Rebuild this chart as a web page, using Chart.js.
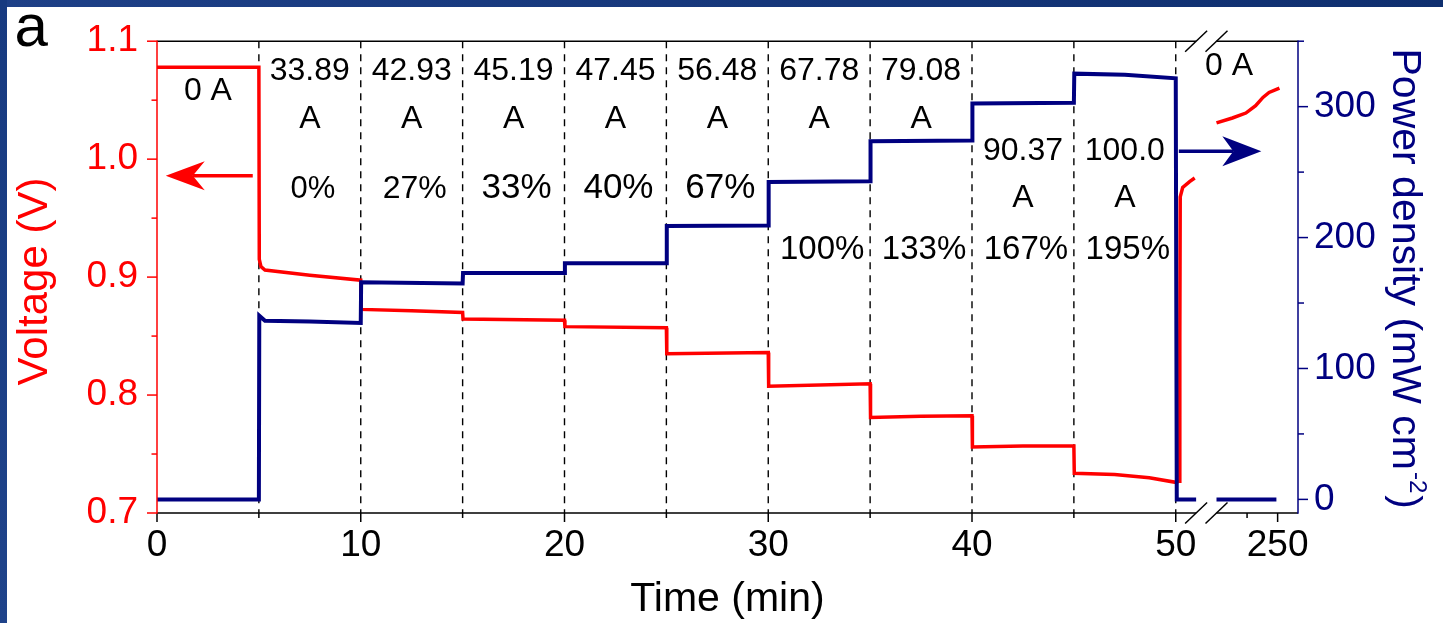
<!DOCTYPE html>
<html>
<head>
<meta charset="utf-8">
<script src="https://cdn.jsdelivr.net/npm/chart.js@4.4.1/dist/chart.umd.min.js"></script>
<style>
  html, body { margin: 0; padding: 0; background: #fff; overflow: hidden; }
  #wrap { position: relative; width: 1443px; height: 623px; }
  canvas { position: absolute; left: 0; top: 0; }
  #frameTop { position: absolute; left: 0; top: 0; width: 1443px; height: 7px;
              background: linear-gradient(to right, #1e4087, #0f2f6f); }
  #frameLeft { position: absolute; left: 0; top: 0; width: 7px; height: 623px;
               background: linear-gradient(to bottom, #173a80, #1f438a); }
</style>
</head>
<body>
<div id="wrap">
  <canvas id="c" width="1443" height="623"></canvas>
  <div id="frameTop"></div>
  <div id="frameLeft"></div>
</div>
<script>
// Galvanostatic step test: cell voltage and power density against time.

// Load steps (min) and their labels
const stepTimes = [5, 10, 15, 20, 25, 30, 35, 40, 45, 50];
const currents  = ['0 A', '33.89', '42.93', '45.19', '47.45', '56.48', '67.78', '79.08', '90.37', '100.0'];
const loadPct   = ['', '0%', '27%', '33%', '40%', '67%', '100%', '133%', '167%', '195%'];

// Voltage (V), 0–51 min
const voltTime = [0, 5.0, 5.02, 5.1, 5.3, 7.5, 10.0,
                  10.02, 12.5, 15.0, 15.02, 20.0, 20.02, 25.0,
                  25.02, 30.0, 30.02, 35.0, 35.02, 37.5, 40.0,
                  40.02, 42.5, 45.0, 45.02, 47.0, 48.7, 50.0,
                  50.18, 50.2, 50.22, 50.34, 50.68, 50.93];
const voltage  = [1.078, 1.078, 0.915, 0.909, 0.906, 0.9016, 0.8974,
                  0.8726, 0.8715, 0.870, 0.8645, 0.8634, 0.858, 0.857,
                  0.835, 0.836, 0.8075, 0.8095, 0.781, 0.782, 0.7825,
                  0.756, 0.7567, 0.7567, 0.7337, 0.7326, 0.7298, 0.726,
                  0.727, 0.85, 0.968, 0.976, 0.981, 0.984];
// Voltage (V), open-circuit recovery after the axis break
const voltTimeLate = [200, 213, 224, 232, 238, 243, 251.5];
const voltageLate  = [1.0307, 1.0349, 1.0391, 1.0453, 1.0523, 1.0565, 1.0602];

// Power density (mW cm-2), 0–51 min
const powerTime = [0, 5.0, 5.02, 5.3, 7.5, 10.0,
                   10.02, 15.0, 15.02, 20.0, 20.02, 25.0,
                   25.02, 30.0, 30.02, 35.0, 35.02, 40.0,
                   40.02, 45.0, 45.02, 47.5, 50.0, 50.05, 51.0];
const power     = [0, 0, 140.3, 136.4, 135.8, 134.8,
                   165.8, 165.0, 172.9, 172.9, 180.4, 180.4,
                   208.8, 209.2, 242.4, 243.1, 273.5, 274.2,
                   302.5, 303.0, 325.2, 324.3, 321.7, 0, 0];
const powerTimeLate = [200, 249];
const powerLate     = [0, 0];

// Axis ticks
const xTickTimes  = [0, 10, 20, 30, 40, 50, 250];
const xMinorTimes = [5, 15, 25, 35, 45, 225];
const vTicks = [0.7, 0.8, 0.9, 1.0, 1.1];
const vMinor = [0.75, 0.85, 0.95, 1.05];
const pTicks = [0, 100, 200, 300];
const pMinor = [50, 150, 250, 350];

// Broken time axis: 0–51 min linear, then 200 min onward compressed
const BREAK_AT = 51, RESUME_AT = 52, LATE_START = 200, LATE_SCALE = 0.06;
function toAxis(t) { return t <= BREAK_AT ? t : RESUME_AT + (t - LATE_START) * LATE_SCALE; }
const pts = (ts, vs) => ts.map((t, i) => ({ x: toAxis(t), y: vs[i] }));

const FONT = "'Liberation Sans', Arial, Helvetica, sans-serif";
const RED = '#ff0000', NAVY = '#000080';

function arrow(ctx, x0, y, x1, color, len, half, notch, width) {
  const d = Math.sign(x1 - x0);
  ctx.save();
  ctx.strokeStyle = color; ctx.fillStyle = color; ctx.lineWidth = width;
  ctx.beginPath(); ctx.moveTo(x0, y); ctx.lineTo(x1 - d * notch, y); ctx.stroke();
  ctx.beginPath();
  ctx.moveTo(x1, y);
  ctx.lineTo(x1 - d * len, y - half);
  ctx.lineTo(x1 - d * notch, y);
  ctx.lineTo(x1 - d * len, y + half);
  ctx.closePath(); ctx.fill();
  ctx.restore();
}

const decorations = {
  id: 'decorations',
  beforeDatasetsDraw(chart) {
    const { ctx, chartArea: a, scales: { x } } = chart;
    ctx.save();
    ctx.strokeStyle = '#000'; ctx.lineWidth = 1.4; ctx.setLineDash([7, 6]);
    stepTimes.forEach(t => {
      const px = x.getPixelForValue(toAxis(t));
      ctx.beginPath(); ctx.moveTo(px, a.top); ctx.lineTo(px, a.bottom); ctx.stroke();
    });
    ctx.restore();
  },
  afterDatasetsDraw(chart) {
    const { ctx, chartArea: a, scales: { x, yV, yP } } = chart;
    const bx0 = x.getPixelForValue(BREAK_AT), bx1 = x.getPixelForValue(RESUME_AT);
    ctx.save();
    ctx.lineWidth = 1.5;

    // frame: top and bottom axes, broken at the time gap
    ctx.strokeStyle = '#000';
    [a.top, a.bottom].forEach(y => {
      ctx.beginPath();
      ctx.moveTo(a.left, y); ctx.lineTo(bx0, y);
      ctx.moveTo(bx1, y); ctx.lineTo(a.right, y);
      ctx.stroke();
      [bx0, bx1].forEach(cx => {
        ctx.beginPath(); ctx.moveTo(cx - 11, y + 10.5); ctx.lineTo(cx + 11, y - 10.5); ctx.stroke();
      });
    });
    // x ticks
    xTickTimes.forEach(t => {
      const px = x.getPixelForValue(toAxis(t));
      ctx.beginPath(); ctx.moveTo(px, a.bottom); ctx.lineTo(px, a.bottom + 9); ctx.stroke();
    });
    xMinorTimes.forEach(t => {
      const px = x.getPixelForValue(toAxis(t));
      ctx.beginPath(); ctx.moveTo(px, a.bottom); ctx.lineTo(px, a.bottom + 5); ctx.stroke();
    });

    // voltage axis
    ctx.strokeStyle = RED;
    ctx.beginPath(); ctx.moveTo(a.left, a.top - 0.75); ctx.lineTo(a.left, a.bottom + 0.75); ctx.stroke();
    vTicks.forEach(v => {
      const py = yV.getPixelForValue(v);
      ctx.beginPath(); ctx.moveTo(a.left - 10, py); ctx.lineTo(a.left, py); ctx.stroke();
    });
    vMinor.forEach(v => {
      const py = yV.getPixelForValue(v);
      ctx.beginPath(); ctx.moveTo(a.left - 5.5, py); ctx.lineTo(a.left, py); ctx.stroke();
    });

    // power density axis
    ctx.strokeStyle = NAVY;
    ctx.beginPath(); ctx.moveTo(a.right, a.top - 0.75); ctx.lineTo(a.right, a.bottom + 0.75); ctx.stroke();
    pTicks.forEach(v => {
      const py = yP.getPixelForValue(v);
      ctx.beginPath(); ctx.moveTo(a.right, py); ctx.lineTo(a.right + 10, py); ctx.stroke();
    });
    pMinor.forEach(v => {
      const py = yP.getPixelForValue(v);
      ctx.beginPath(); ctx.moveTo(a.right, py); ctx.lineTo(a.right + 6, py); ctx.stroke();
    });

    // step annotations
    ctx.fillStyle = '#000'; ctx.textAlign = 'center'; ctx.textBaseline = 'alphabetic';
    const pctSize = [0, 31, 32, 35, 35, 35, 33, 33, 33, 33];
    currents.forEach((c, i) => {
      const cx = x.getPixelForValue(toAxis(i * 5 + 2.5));
      ctx.font = `32px ${FONT}`;
      if (i === 0) {
        ctx.fillText(c, cx, 100);
      } else {
        const low = i >= 8;
        ctx.fillText(c, cx, low ? 160 : 80);
        ctx.fillText('A', cx, low ? 206.5 : 127.5);
        ctx.font = `${pctSize[i]}px ${FONT}`;
        ctx.fillText(loadPct[i], cx + 3, i >= 6 ? 259 : 198);
      }
    });
    ctx.font = `32px ${FONT}`;
    ctx.fillText('0 A', x.getPixelForValue(52.62), 75);

    // direction arrows
    const yRed = yV.getPixelForValue(0.986);
    arrow(ctx, x.getPixelForValue(4.7), yRed, x.getPixelForValue(0.43), RED, 39, 14.5, 27, 3.5);
    const yNavy = yP.getPixelForValue(266);
    arrow(ctx, x.getPixelForValue(50.15), yNavy, x.getPixelForValue(54.2), NAVY, 39, 15, 28, 3.5);

    // axis titles
    ctx.font = `41px ${FONT}`;
    ctx.fillStyle = '#000';
    ctx.fillText('Time (min)', (a.left + a.right) / 2, 611);

    ctx.save();
    ctx.translate(47, 281.5); ctx.rotate(-Math.PI / 2);
    ctx.font = `42px ${FONT}`;
    ctx.fillStyle = RED; ctx.fillText('Voltage (V)', 0, 0);
    ctx.restore();

    ctx.save();
    ctx.translate(1393, 276.7); ctx.rotate(Math.PI / 2);
    ctx.fillStyle = NAVY; ctx.textAlign = 'left';
    const main = 'Power density (mW cm', sup = '-2', tail = ')';
    ctx.font = `41px ${FONT}`;
    const wMain = ctx.measureText(main).width, wTail = ctx.measureText(tail).width;
    ctx.font = `24px ${FONT}`;
    const wSup = ctx.measureText(sup).width;
    let sx = -(wMain + wSup + wTail) / 2;
    ctx.font = `41px ${FONT}`; ctx.fillText(main, sx, 0); sx += wMain + 2;
    ctx.font = `24px ${FONT}`; ctx.fillText(sup, sx, -17); sx += wSup + 2;
    ctx.font = `41px ${FONT}`; ctx.fillText(tail, sx, 0);
    ctx.restore();

    // panel letter
    ctx.font = `60px ${FONT}`; ctx.textAlign = 'left'; ctx.fillStyle = '#000';
    ctx.fillText('a', 14.5, 46);
    ctx.restore();
  }
};

const lineStyle = (color, w) => ({ borderColor: color, borderWidth: w, pointRadius: 0, tension: 0, fill: false });

new Chart(document.getElementById('c'), {
  type: 'line',
  data: {
    datasets: [
      { label: 'Power density', data: pts(powerTime, power), yAxisID: 'yP', ...lineStyle(NAVY, 4) },
      { label: 'Power density (rest)', data: pts(powerTimeLate, powerLate), yAxisID: 'yP', ...lineStyle(NAVY, 4) },
      { label: 'Voltage', data: pts(voltTime, voltage), yAxisID: 'yV', ...lineStyle(RED, 3.5) },
      { label: 'Voltage (rest)', data: pts(voltTimeLate, voltageLate), yAxisID: 'yV', ...lineStyle(RED, 3.5) }
    ]
  },
  options: {
    responsive: false,
    animation: false,
    events: [],
    layout: { padding: { top: 38, left: 0, right: 0, bottom: 0 } },
    plugins: { legend: { display: false }, tooltip: { enabled: false } },
    scales: {
      x: {
        type: 'linear', min: 0, max: 56,
        grid: { display: false, drawTicks: false }, border: { display: false },
        afterBuildTicks: s => { s.ticks = xTickTimes.map(t => ({ value: toAxis(t) })); },
        afterFit: s => { s.height = 110; },
        ticks: {
          autoSkip: false, maxRotation: 0, padding: 11, color: '#000',
          font: { family: FONT, size: 37 },
          callback: (v, i) => String(xTickTimes[i])
        }
      },
      yV: {
        type: 'linear', position: 'left', min: 0.7, max: 1.1,
        grid: { display: false, drawTicks: false }, border: { display: false },
        afterBuildTicks: s => { s.ticks = vTicks.map(v => ({ value: v })); },
        afterFit: s => { s.width = 157; },
        ticks: { padding: 19, color: RED, font: { family: FONT, size: 37 }, callback: v => v.toFixed(1) }
      },
      yP: {
        type: 'linear', position: 'right', min: -10.4, max: 350,
        grid: { display: false, drawTicks: false }, border: { display: false },
        afterBuildTicks: s => { s.ticks = pTicks.map(v => ({ value: v })); },
        afterFit: s => { s.width = 145; },
        ticks: { padding: 16, color: NAVY, font: { family: FONT, size: 37 }, callback: v => String(v) }
      }
    }
  },
  plugins: [decorations]
});
</script>
</body>
</html>
